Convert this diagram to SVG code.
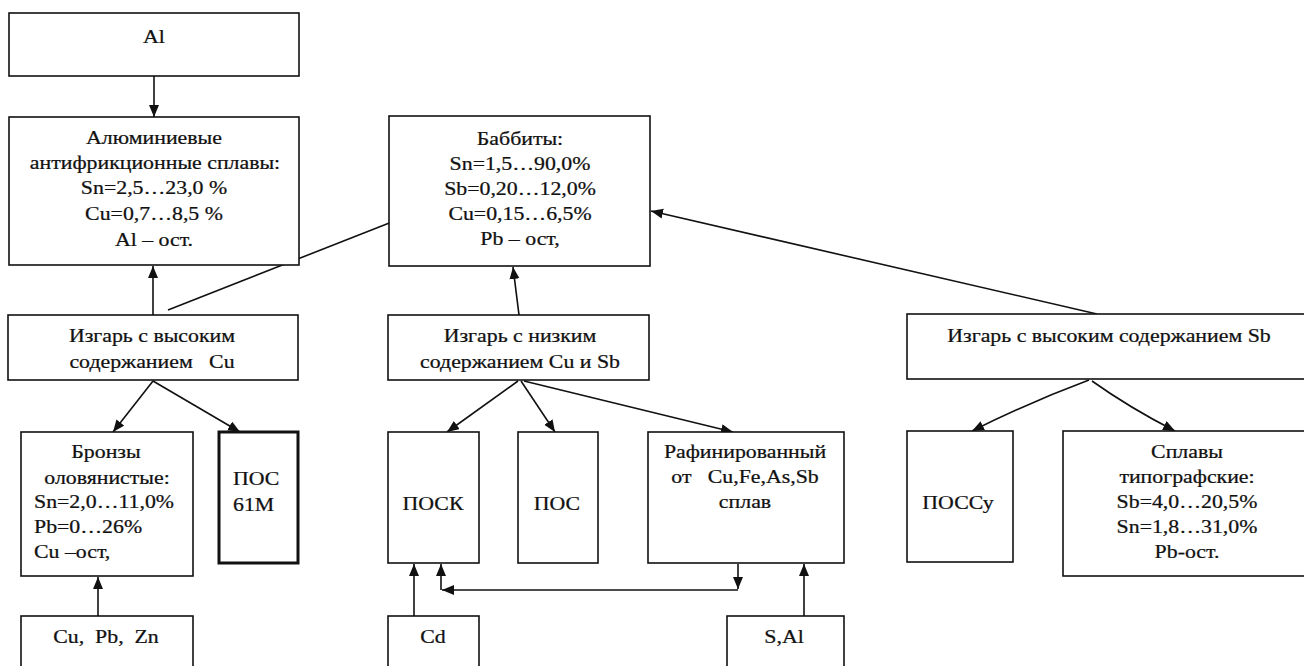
<svg xmlns="http://www.w3.org/2000/svg" width="1304" height="666" viewBox="0 0 1304 666">
<style>
rect{fill:#fff;stroke:#111;stroke-width:1.6}
rect.thick{stroke-width:3}
text{font-family:"Liberation Serif","Times New Roman",serif;font-size:19.5px;fill:#111;stroke:#111;stroke-width:0.25}
.c{text-anchor:middle}
#connectors line,#connectors path{stroke:#111;stroke-width:1.6;fill:none;marker-end:url(#ah)}
</style>
<defs>
<marker id="ah" markerUnits="userSpaceOnUse" markerWidth="13" markerHeight="11" refX="12" refY="5" orient="auto">
<path d="M0,0 L12,5 L0,10 z" fill="#111"/>
</marker>
</defs>
<rect width="1304" height="666" fill="#fff" style="stroke:none"/>
<g id="connectors">
<line x1="154" y1="76" x2="154" y2="117"/>
<line x1="153" y1="315" x2="153" y2="266"/>
<line x1="168" y1="310" x2="402" y2="218"/>
<line x1="519" y1="315" x2="513" y2="267"/>
<line x1="1097" y1="314" x2="651" y2="211"/>
<line x1="153" y1="381" x2="113" y2="432"/>
<line x1="153" y1="381" x2="240" y2="432"/>
<line x1="518" y1="381" x2="447" y2="432"/>
<line x1="521" y1="381" x2="555" y2="432"/>
<line x1="524" y1="381" x2="733" y2="432"/>
<path d="M1089,380 Q1030,402 972,431"/>
<path d="M1092,381 Q1130,408 1175,431"/>
<line x1="98" y1="616" x2="98" y2="577"/>
<line x1="414" y1="616" x2="414" y2="564"/>
<line x1="738" y1="564" x2="738" y2="589"/>
<line x1="738" y1="590" x2="442" y2="590"/>
<line x1="441" y1="590" x2="441" y2="564"/>
<line x1="804" y1="616" x2="804" y2="564"/>
</g>
<g id="n-al"><rect x="9" y="13" width="290" height="63"/><text class="c" transform="matrix(1.12 0 0 1 154 0)" y="43">Al</text></g>
<g id="n-alum"><rect x="9" y="117" width="290" height="148"/>
<text class="c" transform="matrix(1.12 0 0 1 154 0)" y="144">Алюминиевые</text>
<text class="c" transform="matrix(1.12 0 0 1 155 0)" y="169">антифрикционные сплавы:</text>
<text class="c" transform="matrix(1.12 0 0 1 154 0)" y="194">Sn=2,5…23,0 %</text>
<text class="c" transform="matrix(1.12 0 0 1 154 0)" y="220">Cu=0,7…8,5 %</text>
<text class="c" transform="matrix(1.12 0 0 1 154 0)" y="246">Al – ост.</text></g>
<g id="n-babbit"><rect x="389" y="116" width="261" height="150"/>
<text class="c" transform="matrix(1.12 0 0 1 520 0)" y="145">Баббиты:</text>
<text class="c" transform="matrix(1.12 0 0 1 520 0)" y="170">Sn=1,5…90,0%</text>
<text class="c" transform="matrix(1.12 0 0 1 520 0)" y="195">Sb=0,20…12,0%</text>
<text class="c" transform="matrix(1.12 0 0 1 520 0)" y="220">Cu=0,15…6,5%</text>
<text class="c" transform="matrix(1.12 0 0 1 520 0)" y="245">Pb – ост,</text></g>
<g id="n-izg-cu"><rect x="8" y="315" width="290" height="65"/>
<text class="c" transform="matrix(1.12 0 0 1 152 0)" y="342">Изгарь с высоким</text>
<text class="c" transform="matrix(1.12 0 0 1 152 0)" y="368" xml:space="preserve">содержанием   Cu</text></g>
<g id="n-izg-low"><rect x="388" y="315" width="261" height="65"/>
<text class="c" transform="matrix(1.12 0 0 1 520 0)" y="342">Изгарь с низким</text>
<text class="c" transform="matrix(1.12 0 0 1 520 0)" y="368">содержанием Cu и Sb</text></g>
<g id="n-izg-sb"><rect x="907" y="314" width="410" height="65"/>
<text class="c" transform="matrix(1.12 0 0 1 1109 0)" y="342">Изгарь с высоким содержанием Sb</text></g>
<g id="n-bronze"><rect x="21" y="432" width="172" height="144"/>
<text class="c" transform="matrix(1.12 0 0 1 106 0)" y="458">Бронзы</text>
<text class="c" transform="matrix(1.12 0 0 1 107 0)" y="484">оловянистые:</text>
<text transform="matrix(1.12 0 0 1 34 0)" y="508">Sn=2,0…11,0%</text>
<text transform="matrix(1.12 0 0 1 34 0)" y="533">Pb=0…26%</text>
<text transform="matrix(1.12 0 0 1 34 0)" y="558">Cu –ост,</text></g>
<g id="n-pos61"><rect class="thick" x="219" y="432" width="79" height="131"/>
<text transform="matrix(1.12 0 0 1 233 0)" y="485">ПОС</text>
<text transform="matrix(1.12 0 0 1 233 0)" y="511">61М</text></g>
<g id="n-posk"><rect x="388" y="432" width="91" height="131"/><text class="c" transform="matrix(1.12 0 0 1 433 0)" y="510">ПОСК</text></g>
<g id="n-pos"><rect x="518" y="432" width="80" height="131"/><text class="c" transform="matrix(1.12 0 0 1 557 0)" y="510">ПОС</text></g>
<g id="n-raf"><rect x="648" y="432" width="196" height="131"/>
<text class="c" transform="matrix(1.12 0 0 1 745 0)" y="458">Рафинированный</text>
<text class="c" transform="matrix(1.12 0 0 1 745 0)" y="483" xml:space="preserve">от   Cu,Fe,As,Sb</text>
<text class="c" transform="matrix(1.12 0 0 1 745 0)" y="508">сплав</text></g>
<g id="n-possu"><rect x="907" y="431" width="106" height="131"/><text class="c" transform="matrix(1.12 0 0 1 958 0)" y="509">ПОССу</text></g>
<g id="n-typo"><rect x="1063" y="431" width="260" height="145"/>
<text class="c" transform="matrix(1.12 0 0 1 1187 0)" y="458">Сплавы</text>
<text class="c" transform="matrix(1.12 0 0 1 1187 0)" y="483">типографские:</text>
<text class="c" transform="matrix(1.12 0 0 1 1187 0)" y="508">Sb=4,0…20,5%</text>
<text class="c" transform="matrix(1.12 0 0 1 1187 0)" y="533">Sn=1,8…31,0%</text>
<text class="c" transform="matrix(1.12 0 0 1 1187 0)" y="558">Pb-ост.</text></g>
<g id="n-cupbzn"><rect x="21" y="616" width="172" height="70"/><text class="c" transform="matrix(1.12 0 0 1 106 0)" y="643" xml:space="preserve">Cu,  Pb,  Zn</text></g>
<g id="n-cd"><rect x="388" y="616" width="91" height="70"/><text class="c" transform="matrix(1.12 0 0 1 433 0)" y="643">Cd</text></g>
<g id="n-sal"><rect x="727" y="616" width="117" height="70"/><text class="c" transform="matrix(1.12 0 0 1 784 0)" y="643">S,Al</text></g>
</svg>
